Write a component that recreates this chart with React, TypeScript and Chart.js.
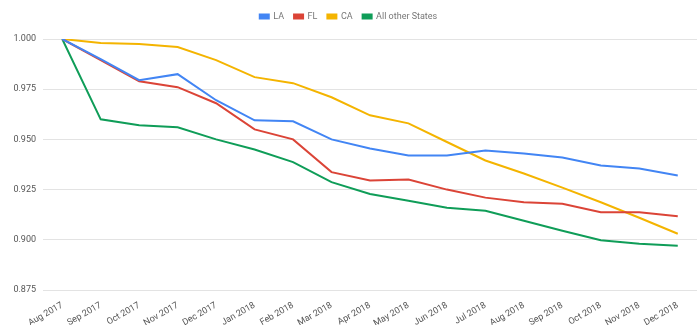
import React, { useEffect, useRef } from "react";
import { Chart, registerables } from "chart.js";

Chart.register(...registerables);

const categories = [
  "Aug 2017", "Sep 2017", "Oct 2017", "Nov 2017", "Dec 2017",
  "Jan 2018", "Feb 2018", "Mar 2018", "Apr 2018", "May 2018",
  "Jun 2018", "Jul 2018", "Aug 2018", "Sep 2018", "Oct 2018",
  "Nov 2018", "Dec 2018",
];

const laValues = [1.0, 0.99, 0.9795, 0.9825, 0.9695, 0.9595, 0.959, 0.950, 0.9455, 0.942, 0.942, 0.9445, 0.943, 0.941, 0.937, 0.9355, 0.932];
const flValues = [1.0, 0.9895, 0.979, 0.976, 0.968, 0.955, 0.950, 0.9337, 0.9295, 0.930, 0.925, 0.921, 0.9187, 0.918, 0.9137, 0.9137, 0.9117];
const caValues = [1.0, 0.998, 0.9975, 0.996, 0.9895, 0.981, 0.978, 0.971, 0.962, 0.958, 0.9487, 0.9395, 0.933, 0.926, 0.9187, 0.911, 0.903];
const otherValues = [1.0, 0.960, 0.957, 0.956, 0.950, 0.945, 0.9387, 0.9287, 0.9228, 0.9195, 0.916, 0.9145, 0.9095, 0.9045, 0.8998, 0.898, 0.897];

const seriesNames = ["LA", "FL", "CA", "All other States"];
const yTicks = [0.875, 0.9, 0.925, 0.95, 0.975, 1.0];

const legendSpacer = {
  id: "legendSpacer",
  beforeInit(chart: any) {
    const legend = chart.legend;
    if (!legend) return;
    const origFit = legend.fit;
    legend.fit = function () {
      origFit.call(this);
      this.height += 8;
    };
  },
};

export default function App() {
  const ref = useRef<HTMLCanvasElement | null>(null);
  useEffect(() => {
    if (!ref.current) return;
    const colors = ["#4285F4", "#DB4437", "#F4B400", "#0F9D58"];
    const data = [laValues, flValues, caValues, otherValues];
    const chart = new Chart(ref.current, {
      type: "line",
      data: {
        labels: categories,
        datasets: seriesNames.map((n, i) => ({
          label: n,
          data: data[i],
          borderColor: colors[i],
          backgroundColor: colors[i],
          borderWidth: 2,
          pointRadius: 0,
          tension: 0,
        })),
      },
      plugins: [legendSpacer],
      options: {
        animation: false,
        responsive: false,
        layout: { padding: { top: 2, left: 0, right: 0, bottom: 0 } },
        plugins: {
          legend: {
            position: "top",
            labels: {
              boxWidth: 9,
              boxHeight: 4,
              padding: 10,
              color: "#777",
              font: { family: "Roboto", size: 9 },
            },
          },
          tooltip: { enabled: false },
        },
        scales: {
          x: {
            offset: true,
            grid: { display: false },
            border: { display: false },
            afterFit: (s: any) => {
              s.height = 35;
            },
            ticks: {
              minRotation: 30,
              maxRotation: 30,
              color: "#555",
              font: { family: "Roboto", size: 9 },
              padding: 2,
            },
          },
          y: {
            min: 0.875,
            max: 1.0,
            afterBuildTicks: (s: any) => {
              s.ticks = yTicks.map((v) => ({ value: v }));
            },
            afterFit: (s: any) => {
              s.width = 43;
            },
            grid: { color: "#e3e3e3", drawTicks: false },
            border: { display: false },
            ticks: {
              color: "#555",
              font: { family: "Roboto", size: 9 },
              padding: 7,
              callback: (v: any) => Number(v).toFixed(3),
            },
          },
        },
      },
    });
    return () => chart.destroy();
  }, []);
  return (
    <div style={{ position: "absolute", left: 0, top: 0, width: 697, height: 325, background: "#fff" }}>
      <canvas ref={ref} width={697} height={325} style={{ display: "block" }} />
    </div>
  );
}
